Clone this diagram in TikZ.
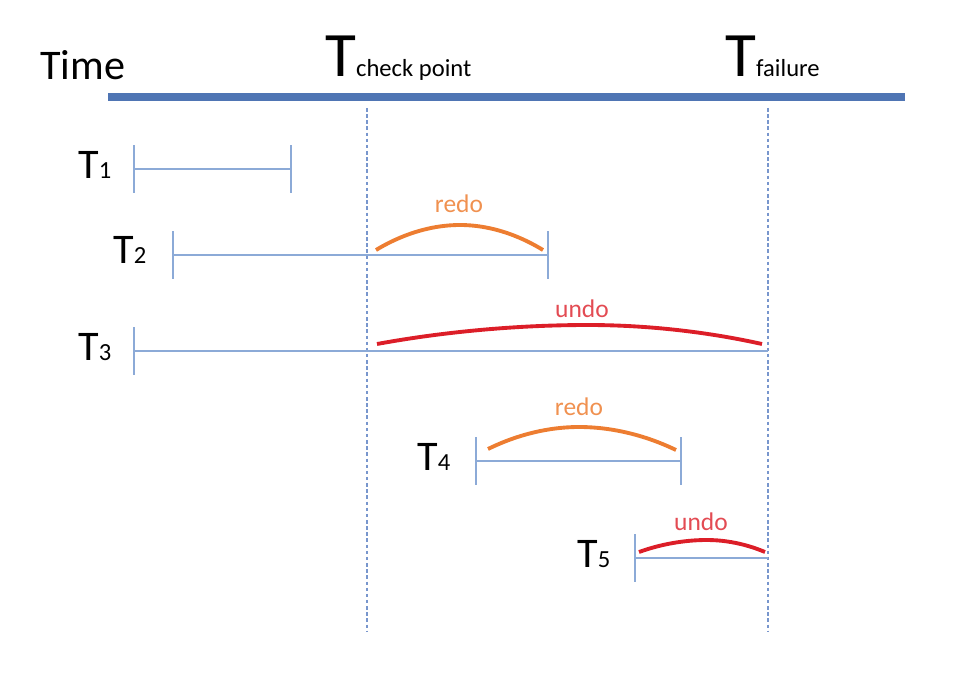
\documentclass[tikz,border=0pt]{standalone}
\usepackage{fontspec}
\setmainfont{Carlito}
\usetikzlibrary{arrows.meta}
\definecolor{axisblue}{RGB}{79,117,180}
\definecolor{barblue}{RGB}{140,170,215}
\definecolor{lineblue}{RGB}{120,150,205}
\definecolor{redoorange}{RGB}{237,125,49}
\definecolor{undored}{RGB}{220,30,40}
\newcommand{\tsub}[1]{{\fontsize{14}{14}\selectfont #1}}

\begin{document}
\begin{tikzpicture}[x=0.02cm,y=-0.02cm]
    \tikzset{
        txn/.style={
            barblue,
            line width=1.2pt,
            {Bar[width=27pt]}-{Bar[width=27pt]}
        },
        txnopen/.style={
            barblue,
            line width=1.2pt,
            {Bar[width=27pt]}-
        },
        tlabel/.style={
            anchor=base west,
            inner sep=0,
            font=\fontsize{24}{24}\selectfont
        },
        biglabel/.style={
            anchor=base west,
            inner sep=0,
            font=\fontsize{36}{36}\selectfont
        },
        redo/.style={redoorange, line width=2.2pt},
        undo/.style={undored, line width=2.2pt},
        redotext/.style={anchor=base, inner sep=0, text=redoorange!85!white, font=\fontsize{14.5}{14.5}\selectfont},
        undotext/.style={anchor=base, inner sep=0, text=undored!80!white, font=\fontsize{14.5}{14.5}\selectfont},
        marker/.style={lineblue, line width=1pt, dash pattern=on 2pt off 1.5pt}
    }
    \useasboundingbox (0,0) rectangle (974,696);

    % Time axis
    \node[tlabel] (time) at (40,80) {Time};
    \coordinate (axis_L) at (108,97);
    \coordinate (axis_R) at (905,97);
    \draw[axisblue, line width=5pt] (axis_L) -- (axis_R);

    \node[biglabel] (T_cp) at (325,77) {T\tsub{check point}};
    \node[biglabel] (T_fail) at (725,77) {T\tsub{failure}};

    % check point and failure markers
    \coordinate (cp_top) at (367,108);
    \coordinate (cp_bot) at (367,632);
    \coordinate (fail_top) at (768,108);
    \coordinate (fail_bot) at (768,632);
    \draw[marker] (cp_top) -- (cp_bot);
    \draw[marker] (fail_top) -- (fail_bot);

    % T1
    \node[tlabel] (T1) at (78,178) {T\tsub{1}};
    \coordinate (T1_s) at (133,169);
    \coordinate (T1_e) at (292,169);
    \draw[txn] (T1_s) -- (T1_e);

    % T2
    \node[tlabel] (T2) at (113,263) {T\tsub{2}};
    \coordinate (T2_s) at (172,255);
    \coordinate (T2_e) at (549,255);
    \draw[txn] (T2_s) -- (T2_e);
    \coordinate (R2_s) at (376,250);
    \coordinate (R2_p) at (460,225);
    \coordinate (R2_e) at (543,250);
    \draw[redo] (R2_s) parabola bend (R2_p) (R2_e);
    \node[redotext] (R2) at (459,213) {redo};

    % T3
    \node[tlabel] (T3) at (78,360) {T\tsub{3}};
    \coordinate (T3_s) at (133,351);
    \coordinate (T3_e) at (768,351);
    \draw[txnopen] (T3_s) -- (T3_e);
    \coordinate (U3_s) at (377,344);
    \coordinate (U3_p) at (588,325);
    \coordinate (U3_e) at (762,344);
    \draw[undo] (U3_s) parabola bend (U3_p) (U3_e);
    \node[undotext] (U3) at (582,317) {undo};

    % T4
    \node[tlabel] (T4) at (417,470) {T\tsub{4}};
    \coordinate (T4_s) at (475,461);
    \coordinate (T4_e) at (682,461);
    \draw[txn] (T4_s) -- (T4_e);
    \coordinate (R4_s) at (488,449);
    \coordinate (R4_p) at (579,427);
    \coordinate (R4_e) at (676,450);
    \draw[redo] (R4_s) parabola bend (R4_p) (R4_e);
    \node[redotext] (R4) at (579,415) {redo};

    % T5
    \node[tlabel] (T5) at (577,567) {T\tsub{5}};
    \coordinate (T5_s) at (634,558);
    \coordinate (T5_e) at (768,558);
    \draw[txnopen] (T5_s) -- (T5_e);
    \coordinate (U5_s) at (639,552);
    \coordinate (U5_p) at (707,540);
    \coordinate (U5_e) at (765,552);
    \draw[undo] (U5_s) parabola bend (U5_p) (U5_e);
    \node[undotext] (U5) at (701,530) {undo};
\end{tikzpicture}
\end{document}
